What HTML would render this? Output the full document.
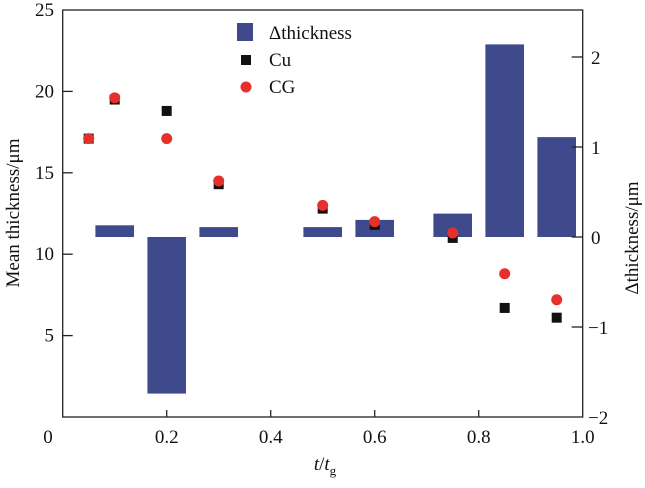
<!DOCTYPE html>
<html><head><meta charset="utf-8"><style>
body{margin:0;background:#fff}
svg text{font-family:"Liberation Serif",serif;fill:#111}
</style></head><body>
<svg width="645" height="483" viewBox="0 0 645 483" xmlns="http://www.w3.org/2000/svg">
<g id="bars"></g>
<g id="pts"></g>
<g id="axes"></g>
<g>
<rect x="237" y="23" width="16" height="18" fill="#3f4a8c"/>
<text x="269" y="39" font-size="19">Δthickness</text>
<rect x="241" y="55" width="10" height="10" fill="#111"/>
<text x="269" y="66" font-size="19">Cu</text>
<circle cx="246" cy="87" r="5.5" fill="#e8302a"/>
<text x="269" y="93" font-size="19">CG</text>
</g>
<text x="325" y="470" font-size="19" text-anchor="middle"><tspan font-style="italic">t</tspan>/<tspan font-style="italic">t</tspan><tspan font-size="13" dy="5">g</tspan></text>
<text transform="translate(19,213) rotate(-90)" font-size="19" text-anchor="middle">Mean thickness/μm</text>
<text transform="translate(638,238) rotate(-90)" font-size="19" text-anchor="middle">Δthickness/μm</text>
</svg>
<script>
const xs=[0.05,0.1,0.2,0.3,0.5,0.6,0.75,0.85,0.95];
const cu=[17.1,19.5,18.8,14.3,12.8,11.8,11.0,6.7,6.1];
const cg=[17.1,19.6,17.1,14.5,13.0,12.0,11.3,8.8,7.2];
const barX=[0.1,0.2,0.3,0.5,0.6,0.75,0.85,0.95];
const delta=[0.13,-1.74,0.11,0.11,0.19,0.26,2.14,1.11];
const xTicks=[0,0.2,0.4,0.6,0.8,1.0];
const xTickLabels=["0","0.2","0.4","0.6","0.8","1.0"];
const yTicks=[5,10,15,20,25];
const y2Ticks=[-2,-1,0,1,2];
const y2TickLabels=["\u22122","\u22121","0","1","2"];
const L=62.7,R=582.7,T=10,B=417;
const X=v=>L+v*(R-L);
const Y=v=>B-v/25*(B-T);
const Y2=v=>237-v*90;
const NS="http://www.w3.org/2000/svg";
function mk(p,t,a){const e=document.createElementNS(NS,t);for(const k in a)e.setAttribute(k,a[k]);p.appendChild(e);return e;}
const bars=document.getElementById('bars'),pts=document.getElementById('pts'),ax=document.getElementById('axes');
const bw=38.6;
barX.forEach((x,i)=>{const y0=Y2(0),y1=Y2(delta[i]);
const r=mk(bars,'rect',{x:X(x)-bw/2,y:Math.min(y0,y1),width:bw,height:Math.abs(y1-y0),fill:'#3f4a8c'});

});
xs.forEach((x,i)=>{const s=mk(pts,'rect',{x:X(x)-5,y:Y(cu[i])-5,width:10,height:10,fill:'#111'});

});
xs.forEach((x,i)=>{const c=mk(pts,'circle',{cx:X(x),cy:Y(cg[i]),r:5.5,fill:'#e8302a'});

});
const fr=mk(ax,'rect',{x:L,y:T,width:R-L,height:B-T,fill:'none',stroke:'#222','stroke-width':1.3});


xTicks.forEach((v,i)=>{if(v>0&&v<1)mk(ax,'line',{x1:X(v),x2:X(v),y1:B,y2:B-7,stroke:'#222','stroke-width':1.3});
const t=mk(ax,'text',{x:i==0?48:X(v),y:443,'font-size':19,'text-anchor':'middle'});t.textContent=xTickLabels[i];

});
yTicks.forEach(v=>{if(v<25)mk(ax,'line',{x1:L,x2:L+10,y1:Y(v),y2:Y(v),stroke:'#222','stroke-width':1.3});
const t=mk(ax,'text',{x:54,y:Y(v)+6,'font-size':19,'text-anchor':'end'});t.textContent=v;

});
y2Ticks.forEach((v,i)=>{if(v>-2)mk(ax,'line',{x1:R-11,x2:R,y1:Y2(v),y2:Y2(v),stroke:'#222','stroke-width':1.3});
const t=mk(ax,'text',{x:v<0?588:591,y:Y2(v)+7,'font-size':19,'text-anchor':'start'});t.textContent=y2TickLabels[i];

});
</script>
</body></html>
